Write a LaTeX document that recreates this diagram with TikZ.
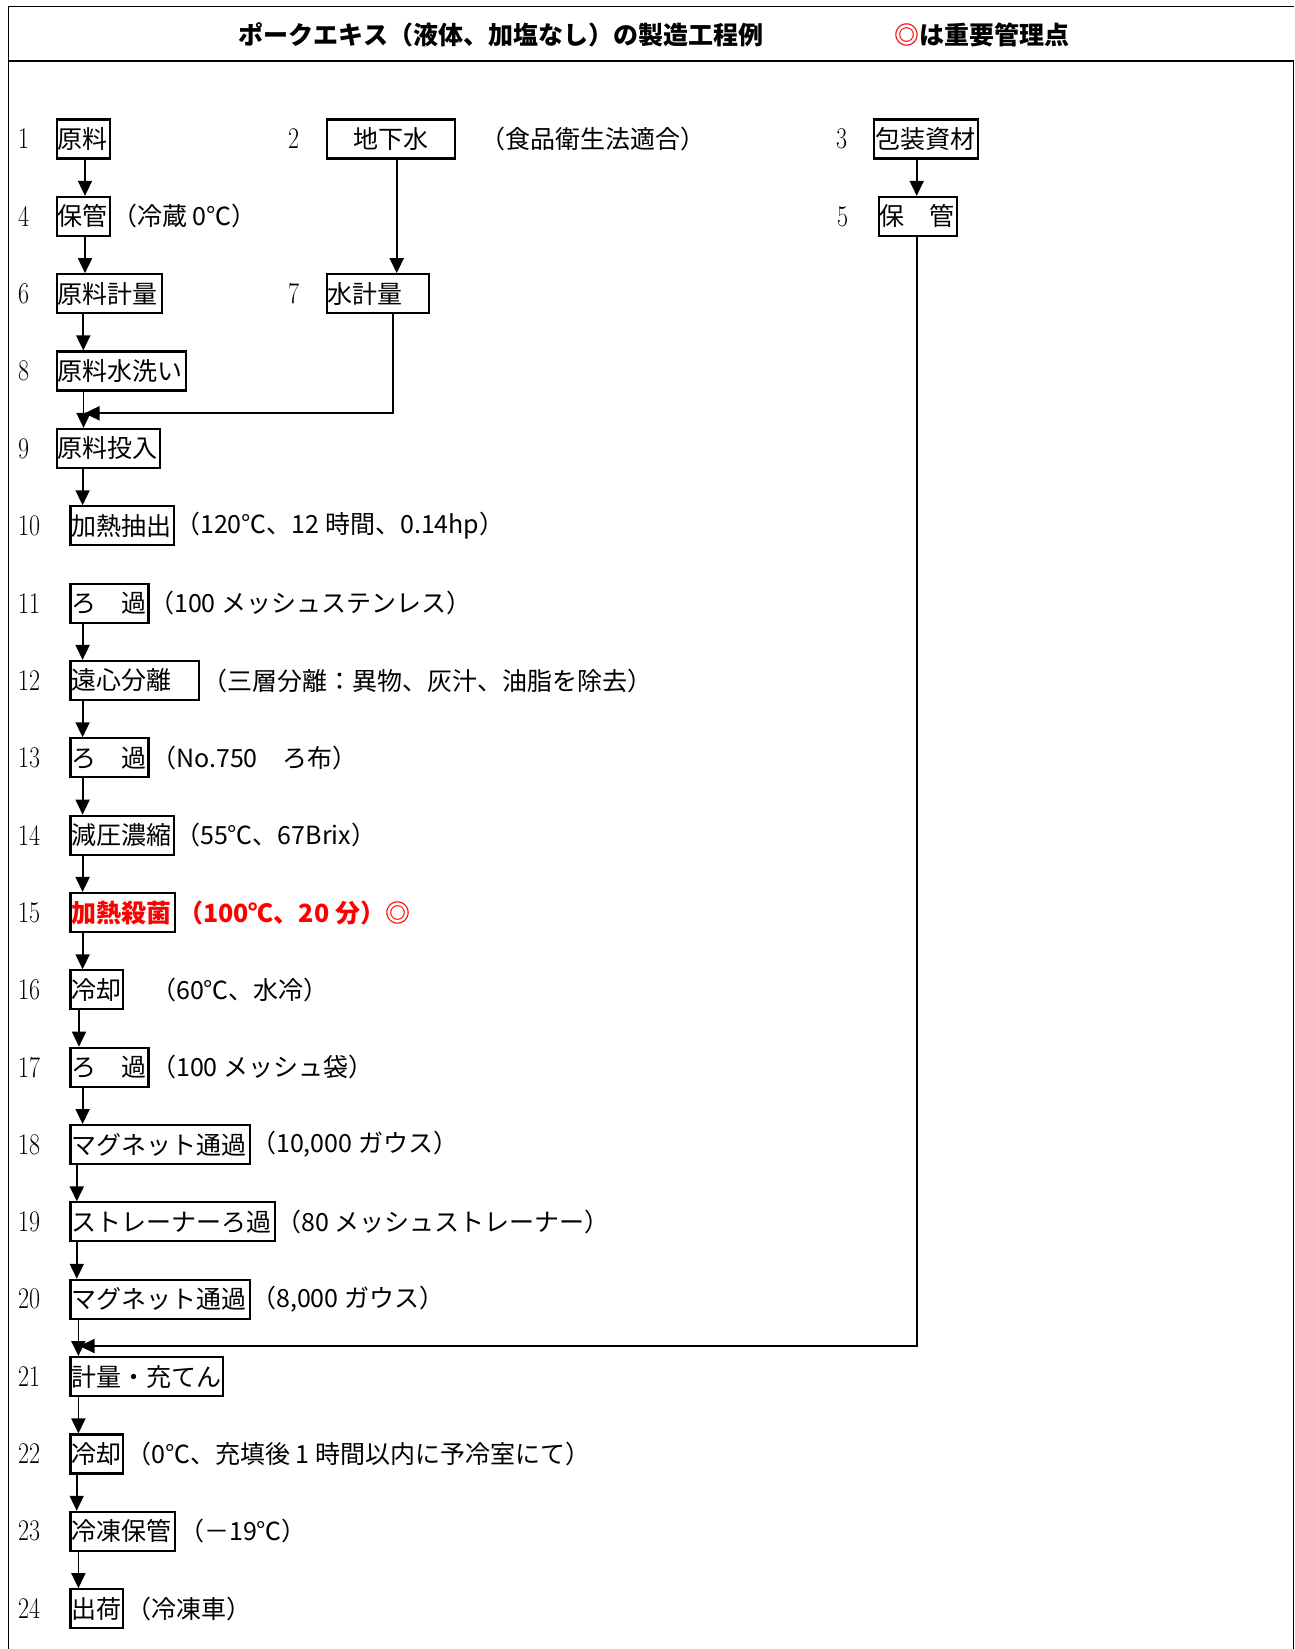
\documentclass[tikz,border=0pt]{standalone}
\usepackage{fontspec}
\usetikzlibrary{arrows.meta}
\newfontfamily\jp{Noto Sans CJK JP}
\definecolor{ccpred}{RGB}{255,0,0}
\newcommand{\rownum}[1]{\scalebox{0.8}[1]{#1}}
\tikzset{
  box/.style={draw, line width=2.1pt, minimum height=39pt, inner xsep=1.05pt, inner ysep=0pt,
    anchor=west, text width=#1, align=left, font=\jp\fontsize{25}{30}\selectfont},
  cbox/.style={box=#1, align=center},
  num/.style={anchor=west, inner sep=0pt, font=\fontsize{30}{34}\selectfont},
  note/.style={anchor=west, inner sep=0pt, font=\jp\fontsize{25}{30}\selectfont},
  arr/.style={line width=1.8pt, -{Triangle[length=15pt,width=14pt]}},
  frame/.style={line width=1.4pt},
}
\begin{document}
\begin{tikzpicture}[x=1pt,y=-1pt]
\useasboundingbox (0,0) rectangle (1294,1649);
% frame
\draw[frame] (8.3,6.7) -- (1294,6.7);
\draw[line width=2.4pt] (8.3,61) -- (1294,61);
\draw[frame] (8.3,6.7) -- (8.3,1649);
\draw[frame] (1293.3,61) -- (1293.3,1649);
% header
\node[inner sep=0pt, font=\jp\bfseries\fontsize{25}{30}\selectfont] (title) at (501,34.5) {ポークエキス（液体、加塩なし）の製造工程例};
\node[anchor=west, inner sep=0pt, font=\jp\bfseries\fontsize{25}{30}\selectfont] (legend) at (894,34.5) {\textcolor{ccpred}{◎}は重要管理点};

% row numbers
\node[num] (l1) at (18,139) {\rownum{1}};
\node[num] (l2) at (288,139) {\rownum{2}};
\node[num] (l3) at (836,139) {\rownum{3}};
\node[num] (l4) at (18,216.4) {\rownum{4}};
\node[num] (l5) at (837,216.4) {\rownum{5}};
\node[num] (l6) at (18,293.7) {\rownum{6}};
\node[num] (l7) at (288,293.7) {\rownum{7}};
\node[num] (l8) at (18,371) {\rownum{8}};
\node[num] (l9) at (18,448.4) {\rownum{9}};
\node[num] (l10) at (18,525.8) {\rownum{10}};
\node[num] (l11) at (18,603.1) {\rownum{11}};
\node[num] (l12) at (18,680.5) {\rownum{12}};
\node[num] (l13) at (18,757.8) {\rownum{13}};
\node[num] (l14) at (18,835.2) {\rownum{14}};
\node[num] (l15) at (18,912.5) {\rownum{15}};
\node[num] (l16) at (18,989.9) {\rownum{16}};
\node[num] (l17) at (18,1067.2) {\rownum{17}};
\node[num] (l18) at (18,1144.6) {\rownum{18}};
\node[num] (l19) at (18,1221.9) {\rownum{19}};
\node[num] (l20) at (18,1299.3) {\rownum{20}};
\node[num] (l21) at (18,1376.6) {\rownum{21}};
\node[num] (l22) at (18,1454) {\rownum{22}};
\node[num] (l23) at (18,1531.3) {\rownum{23}};
\node[num] (l24) at (18,1608.7) {\rownum{24}};

% boxes
\node[box=51.5pt] (n1) at (55.7,139) {原料};
\node[cbox=126.2pt] (n2) at (325.7,139) {地下水};
\node[box=101.3pt] (n3) at (873.3,139) {包装資材};
\node[box=51.5pt] (n4) at (55.7,216.4) {保管};
\node[box=75.9pt] (n5) at (877.7,216.4) {保　管};
\node[box=103.2pt] (n6) at (55.7,293.7) {原料計量};
\node[box=100.5pt] (n7) at (325.7,293.7) {水計量};
\node[box=127.3pt] (n8) at (55.7,371) {原料水洗い};
\node[box=101.2pt] (n9) at (55.7,448.4) {原料投入};
\node[box=101pt] (n10) at (69.4,525.8) {加熱抽出};
\node[box=75.9pt] (n11) at (69.4,603.1) {ろ　過};
\node[box=126.5pt] (n12) at (69.4,680.5) {遠心分離};
\node[box=75.9pt] (n13) at (69.4,757.8) {ろ　過};
\node[box=101pt] (n14) at (69.4,835.2) {減圧濃縮};
\node[box=102pt] (n15) at (69.4,912.5) {\color{ccpred}\bfseries 加熱殺菌};
\node[box=50pt] (n16) at (69.4,989.9) {冷却};
\node[box=75.9pt] (n17) at (69.4,1067.2) {ろ　過};
\node[box=177pt] (n18) at (69.4,1144.6) {マグネット通過};
\node[box=202pt] (n19) at (69.4,1221.9) {ストレーナーろ過};
\node[box=177pt] (n20) at (69.4,1299.3) {マグネット通過};
\node[box=150.5pt] (n21) at (69.4,1376.6) {計量・充てん};
\node[box=50pt] (n22) at (69.4,1454) {冷却};
\node[box=102pt] (n23) at (69.4,1531.3) {冷凍保管};
\node[box=50pt] (n24) at (69.4,1608.7) {出荷};

% notes
\node[note] (t2) at (480,139) {（食品衛生法適合）};
\node[note] (t4) at (112,216.4) {（冷蔵 0℃）};
\node[note] (t10) at (175,525.8) {（120℃、12 時間、0.14hp）};
\node[note] (t11) at (149,603.1) {（100 メッシュステンレス）};
\node[note] (t12) at (202,680.5) {（三層分離：異物、灰汁、油脂を除去）};
\node[note] (t13) at (151,757.8) {（No.750　ろ布）};
\node[note] (t14) at (175,835.2) {（55℃、67Brix）};
\node[note, text=ccpred, font=\jp\bfseries\fontsize{25}{30}\selectfont] (t15) at (178,912.5) {（100℃、20 分）◎};
\node[note] (t16) at (151,989.9) {（60℃、水冷）};
\node[note] (t17) at (151,1067.2) {（100 メッシュ袋）};
\node[note] (t18) at (251,1144.6) {（10,000 ガウス）};
\node[note] (t19) at (276,1221.9) {（80 メッシュストレーナー）};
\node[note] (t20) at (251,1299.3) {（8,000 ガウス）};
\node[note] (t22) at (126,1454) {（0℃、充填後 1 時間以内に予冷室にて）};
\node[note] (t23) at (179,1531.3) {（－19℃）};
\node[note] (t24) at (126,1608.7) {（冷凍車）};

% junction points
\coordinate (j1) at (84.5,413.3);
\coordinate (j2) at (79.5,1346);

% connectors
\draw[arr] ([xshift=29.3pt]n1.south west) -- ([xshift=29.3pt]n1.south west |- n4.north);
\draw[arr] ([xshift=29.3pt]n4.south west) -- ([xshift=29.3pt]n4.south west |- n6.north);
\draw[arr] ([xshift=27.6pt]n6.south west) -- ([xshift=27.6pt]n6.south west |- n8.north);
\draw[arr] ([xshift=27.8pt]n8.south west) -- ([xshift=27.8pt]n8.south west |- n9.north);
\draw[arr] ([xshift=71pt]n2.south west) -- ([xshift=71pt]n2.south west |- n7.north);
\draw[arr] ([xshift=67.6pt]n7.south west) |- (j1);
\draw[arr] ([xshift=43.4pt]n3.south west) -- ([xshift=43.4pt]n3.south west |- n5.north);
\draw[arr] ([xshift=39.6pt]n5.south west) |- (j2);
\draw[arr] ([xshift=26.9pt]n9.south west) -- ([xshift=26.9pt]n9.south west |- n10.north);
\draw[arr] ([xshift=13.2pt]n11.south west) -- ([xshift=13.2pt]n11.south west |- n12.north);
\draw[arr] ([xshift=13.2pt]n12.south west) -- ([xshift=13.2pt]n12.south west |- n13.north);
\draw[arr] ([xshift=13.2pt]n13.south west) -- ([xshift=13.2pt]n13.south west |- n14.north);
\draw[arr] ([xshift=13.2pt]n14.south west) -- ([xshift=13.2pt]n14.south west |- n15.north);
\draw[arr] ([xshift=13.2pt]n15.south west) -- ([xshift=13.2pt]n15.south west |- n16.north);
\draw[arr] ([xshift=9.6pt]n16.south west) -- ([xshift=9.6pt]n16.south west |- n17.north);
\draw[arr] ([xshift=13.2pt]n17.south west) -- ([xshift=13.2pt]n17.south west |- n18.north);
\draw[arr] ([xshift=7.4pt]n18.south west) -- ([xshift=7.4pt]n18.south west |- n19.north);
\draw[arr] ([xshift=7.4pt]n19.south west) -- ([xshift=7.4pt]n19.south west |- n20.north);
\draw[arr] ([xshift=9pt]n20.south west) -- ([xshift=9pt]n20.south west |- n21.north);
\draw[arr] ([xshift=9pt]n21.south west) -- ([xshift=9pt]n21.south west |- n22.north);
\draw[arr] ([xshift=7.3pt]n22.south west) -- ([xshift=7.3pt]n22.south west |- n23.north);
\draw[arr] ([xshift=9pt]n23.south west) -- ([xshift=9pt]n23.south west |- n24.north);
\end{tikzpicture}
\end{document}
